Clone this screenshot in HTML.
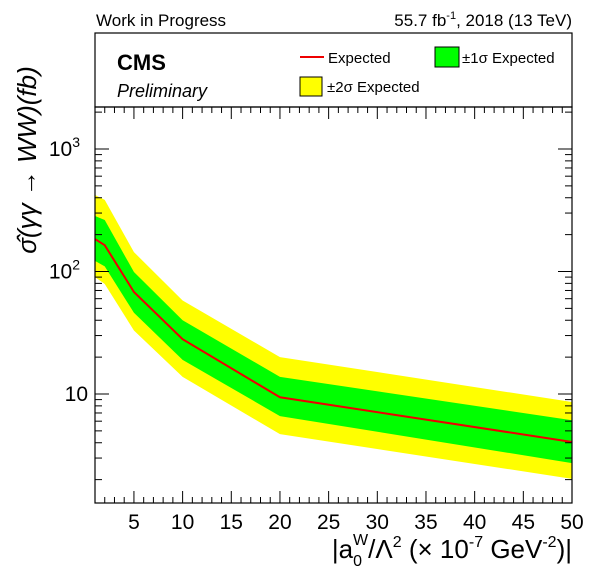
<!DOCTYPE html>
<html><head><meta charset="utf-8"><style>
body{margin:0;background:#fff;}
svg{display:block;font-family:"Liberation Sans",sans-serif;}
</style></head><body>
<svg id="c" width="596" height="572" viewBox="0 0 596 572">
<text x="96" y="26" font-size="17">Work in Progress</text>
<text x="572" y="26" font-size="17" text-anchor="end">55.7 fb<tspan dy="-7" font-size="11">-1</tspan><tspan dy="7">, 2018 (13 TeV)</tspan></text>
<rect x="95" y="33" width="477" height="74" fill="#fff" stroke="#000" stroke-width="1.2"/>
<text x="117" y="70" font-size="22" font-weight="bold">CMS</text>
<text x="117" y="97" font-size="18" font-style="italic">Preliminary</text>
<g><line x1="300" y1="57" x2="324" y2="57" stroke="#e00" stroke-width="2"/><text x="328" y="63" font-size="15">Expected</text></g>
<g><rect x="435" y="47" width="24" height="20" fill="#00ff00" stroke="#000"/><text x="462" y="63" font-size="15">±1σ Expected</text></g>
<g><rect x="300" y="77" width="22" height="19" fill="#ffff00" stroke="#000"/><text x="327" y="92" font-size="15">±2σ Expected</text></g>
<g id="plot"></g>
<text transform="translate(36,160) rotate(-90)" font-size="26" font-style="italic" text-anchor="middle">σ̂(γγ → WW)(fb)</text>
<text x="572" y="558" font-size="26" text-anchor="end">|a<tspan dy="8" font-size="16">0</tspan><tspan dy="-21" dx="-9" font-size="16">W</tspan><tspan dy="13">/Λ</tspan><tspan dy="-11" font-size="16">2</tspan><tspan dy="11"> (× 10</tspan><tspan dy="-11" font-size="16">-7</tspan><tspan dy="11"> GeV</tspan><tspan dy="-11" font-size="16">-2</tspan><tspan dy="11">)|</tspan></text>
</svg>
<script>
const xs=[1,2,5,10,20,50];
const expected=[184,164,68,28,9.4,4.06];
const up1=[284,263,99,40,13.8,6.1];
const dn1=[122,110,46,19,6.6,2.73];
const up2=[421,384,144,58,20,8.6];
const dn2=[90,79,33,13.8,4.7,2.03];
const xTicks=[5,10,15,20,25,30,35,40,45,50];
const NS="http://www.w3.org/2000/svg";
const L=95,R=572,T=107,B=503;
function X(v){return L+(v-1)*(R-L)/49;}
function Y(v){return 394-122.5*Math.log10(v/10);}
const g=document.getElementById('plot');
function mk(t,a){const e=document.createElementNS(NS,t);for(const k in a)e.setAttribute(k,a[k]);g.appendChild(e);return e;}
function band(u,d,col,name){
 let p=xs.map((x,i)=>X(x)+','+Y(u[i]));
 for(let i=xs.length-1;i>=0;i--)p.push(X(xs[i])+','+Y(d[i]));
 const e=mk('polygon',{points:p.join(' '),fill:col});
 
 
}
band(up2,dn2,'#ffff00','band-2sigma');
band(up1,dn1,'#00ff00','band-1sigma');
const ln=mk('polyline',{points:xs.map((x,i)=>X(x)+','+Y(expected[i])).join(' '),fill:'none',stroke:'#e00','stroke-width':2});


const fr=mk('rect',{x:L,y:T,width:R-L,height:B-T,fill:'none',stroke:'#000','stroke-width':1.2});


for(let v=1;v<=50;v++){const maj=v%5==0;const h=maj?12:6;
 mk('line',{x1:X(v),x2:X(v),y1:B,y2:B-h,stroke:'#000'});
 mk('line',{x1:X(v),x2:X(v),y1:T,y2:T+h,stroke:'#000'});}
xTicks.forEach(v=>{const t=mk('text',{x:X(v),y:529,'font-size':21,'text-anchor':'middle'});t.textContent=v;
 
 });
for(let d=0;d<=3;d++)for(let m=1;m<10;m++){const v=m*Math.pow(10,d);const y=Y(v);if(y<T||y>B)continue;
 const h=m==1?14:7;
 mk('line',{x1:L,x2:L+h,y1:y,y2:y,stroke:'#000'});
 mk('line',{x1:R,x2:R-h,y1:y,y2:y,stroke:'#000'});}
[[10,'10',''],[100,'10','2'],[1000,'10','3']].forEach(a=>{const t=mk('text',{x:a[2]?80:88,y:Y(a[0])+7,'font-size':21,'text-anchor':'end'});
 t.innerHTML=a[1]+(a[2]?'<tspan dy="-9" font-size="14">'+a[2]+'</tspan>':'');
 
 });
</script>
</body></html>
